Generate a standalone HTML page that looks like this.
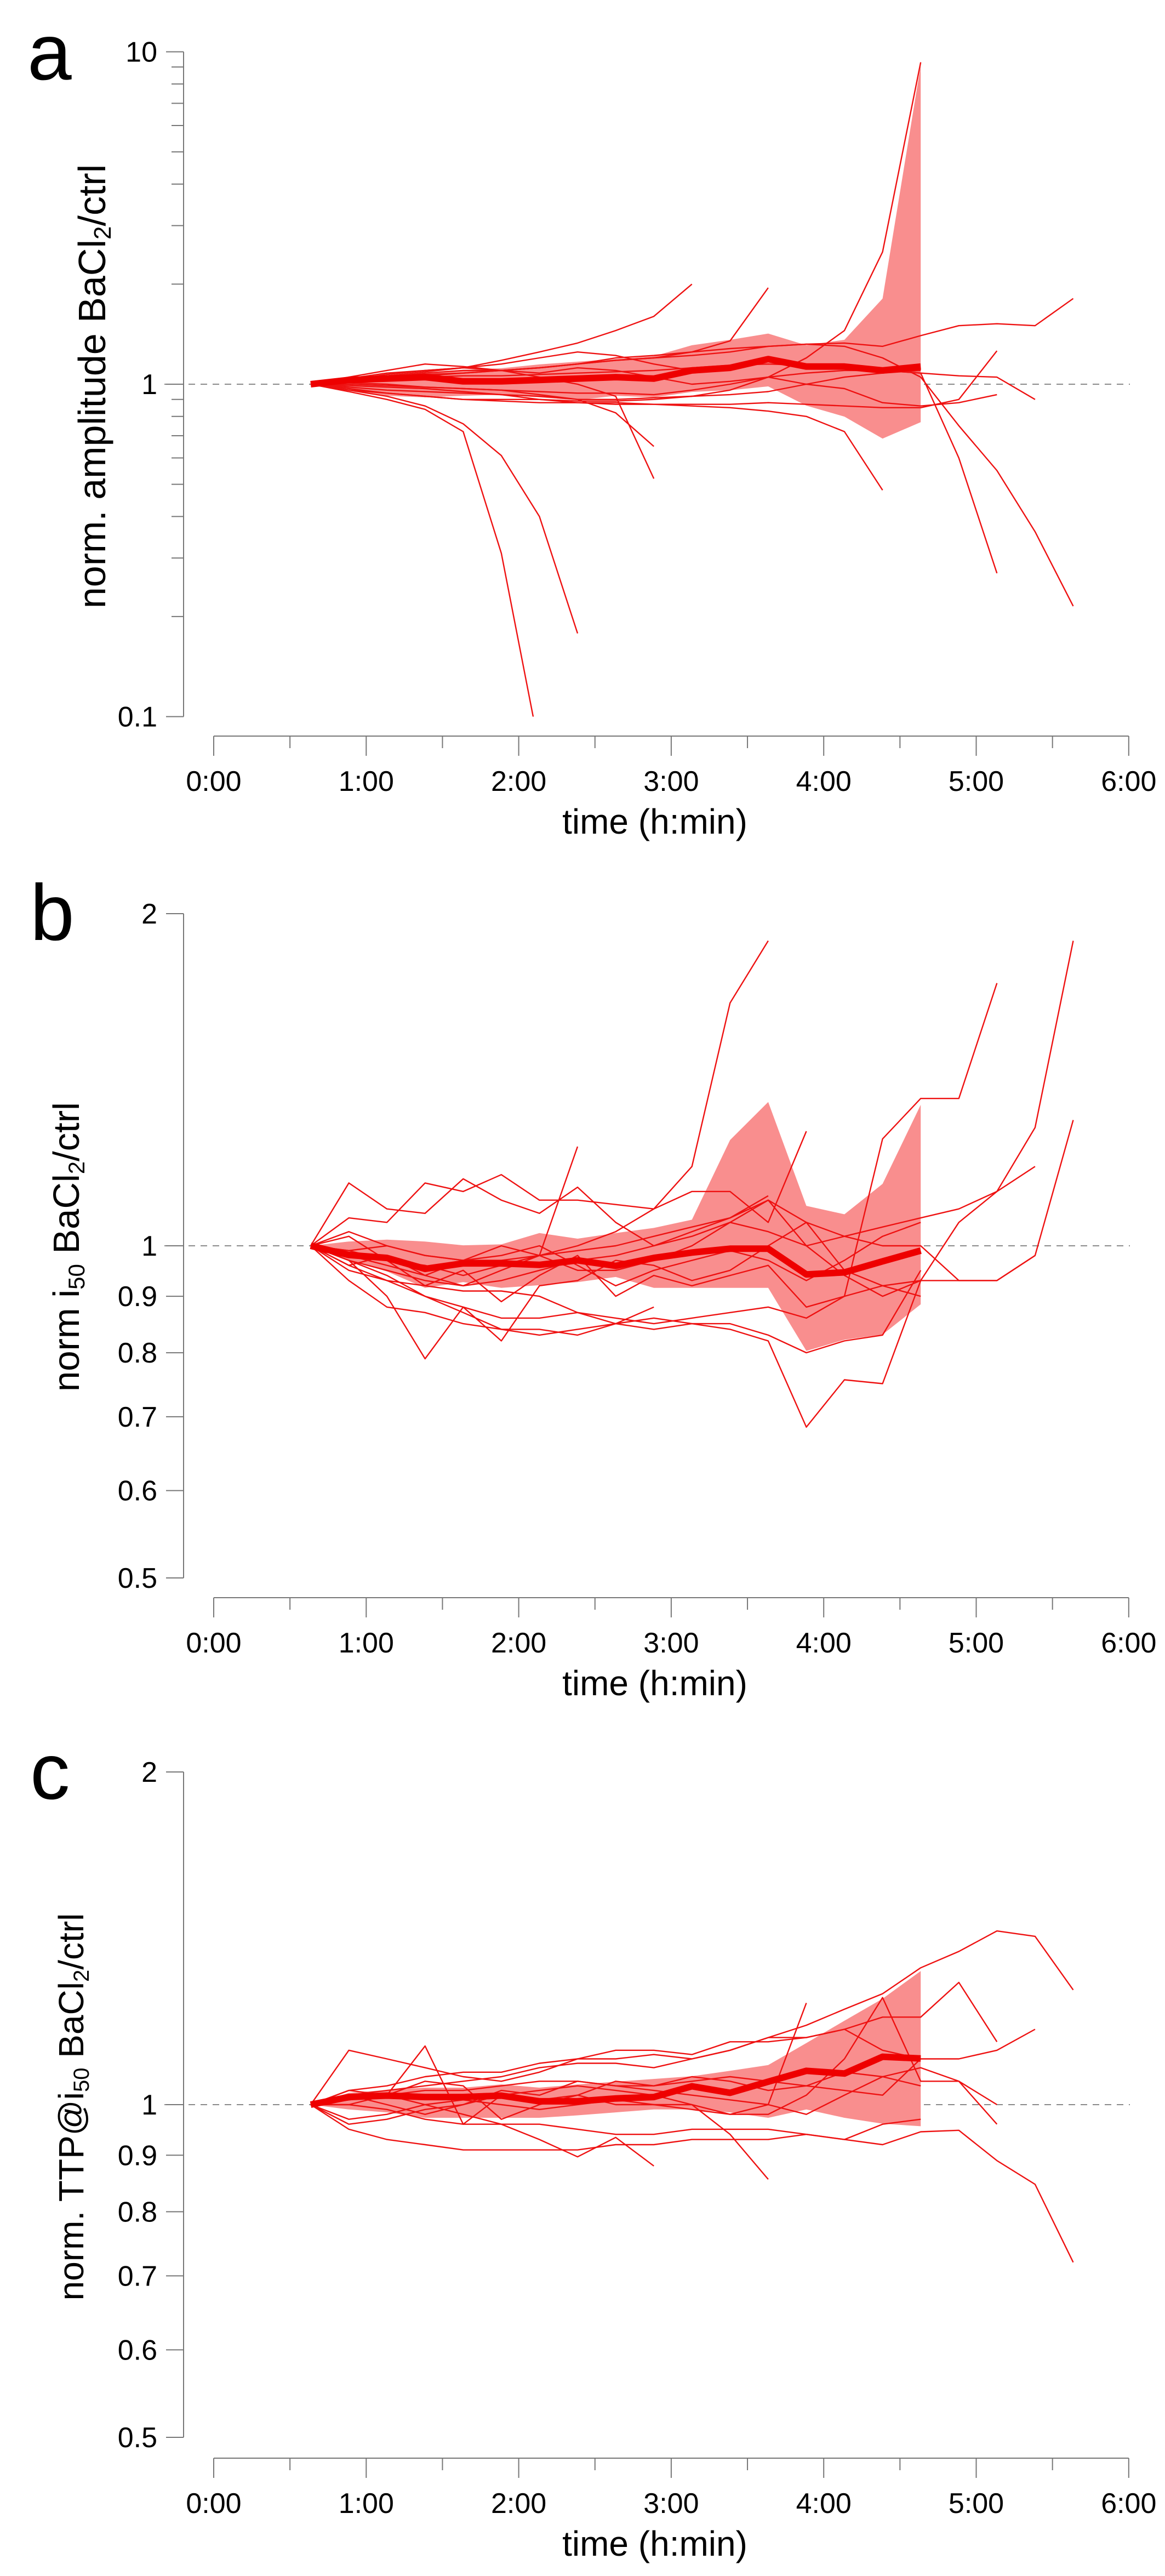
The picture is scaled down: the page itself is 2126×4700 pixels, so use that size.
<!DOCTYPE html>
<html><head><meta charset="utf-8"><style>
html,body{margin:0;padding:0;background:#fff;}
svg{display:block;}
text{font-family:"Liberation Sans",sans-serif;fill:#000;}
</style></head><body>
<svg id="fig" width="2126" height="4700" viewBox="0 0 2126 4700" xmlns="http://www.w3.org/2000/svg"></svg>
<script>
// ---- shared data ----
const sampleTimes = [0.636,0.886,1.136,1.386,1.636,1.886,2.136,2.386,2.636,2.886,3.136,3.386,3.636,3.886,4.136,4.386,4.636,4.886,5.136,5.386,5.636];
const xTickLabels = ["0:00","1:00","2:00","3:00","4:00","5:00","6:00"];

// ---- panel a ----
const aMean = [1,1.03,1.04,1.05,1.02,1.02,1.03,1.04,1.05,1.04,1.10,1.12,1.19,1.13,1.13,1.10,1.13];
const aUpper = [1,1.043,1.063,1.083,1.104,1.117,1.147,1.169,1.191,1.214,1.31,1.36,1.42,1.31,1.36,1.81,9.1];
const aLower = [1,0.959,0.923,0.913,0.923,0.930,0.913,0.896,0.923,0.913,0.948,0.959,0.985,0.862,0.799,0.686,0.769];
const aTraces = [
 [1,0.95,0.9,0.84,0.72,0.31,0.08],
 [1,0.96,0.92,0.86,0.76,0.61,0.40,0.178],
 [1,1.03,1.07,1.1,1.12,1.18,1.25,1.33,1.45,1.6,2.0],
 [1,1.02,1.05,1.06,1.08,1.1,1.05,1.0,0.92,0.52],
 [1,1.01,1.0,0.98,0.97,0.96,0.93,0.9,0.82,0.65],
 [1,1.04,1.08,1.1,1.12,1.1,1.12,1.15,1.2,1.22,1.25,1.35,1.95],
 [1,0.96,0.94,0.92,0.9,0.9,0.9,0.89,0.89,0.9,0.92,0.96,1.05,1.2,1.45,2.5,9.3],
 [1,0.97,0.94,0.92,0.9,0.89,0.88,0.88,0.87,0.87,0.86,0.85,0.83,0.80,0.72,0.48],
 [1,1.02,1.05,1.08,1.1,1.1,1.12,1.15,1.18,1.2,1.22,1.25,1.3,1.32,1.3,1.2,1.05,0.75,0.55,0.36,0.215],
 [1,1.03,1.05,1.07,1.08,1.1,1.12,1.15,1.18,1.2,1.25,1.28,1.3,1.32,1.33,1.30,1.40,1.50,1.52,1.50,1.81],
 [1,1.02,1.04,1.05,1.06,1.06,1.07,1.08,1.09,1.1,1.12,1.14,1.15,1.14,1.12,1.1,1.08,1.06,1.05,0.9],
 [1,1.0,0.99,0.98,0.97,0.96,0.95,0.94,0.94,0.93,0.96,1.0,1.05,1.08,1.1,1.1,1.08,0.6,0.27],
 [1,0.99,0.98,0.97,0.95,0.93,0.9,0.88,0.88,0.87,0.87,0.87,0.88,0.87,0.86,0.85,0.85,0.9,1.26],
 [1,1.05,1.1,1.15,1.13,1.1,1.08,1.12,1.1,1.05,1.0,1.02,1.05,1.0,0.97,0.88,0.86,0.88,0.93],
 [1,1.03,1.06,1.09,1.12,1.15,1.2,1.25,1.22,1.15,1.1,1.12,1.18,1.15,1.12],
 [1,0.98,0.96,0.95,0.94,0.93,0.92,0.9,0.9,0.91,0.92,0.93,0.95,1.0,1.05,1.08,1.1]
];
const aTickVals = [0.1,1,10];
const aTickLabels = ["0.1","1","10"];

// ---- panel b ----
const bMean = [1,0.981,0.975,0.953,0.964,0.964,0.961,0.970,0.959,0.975,0.986,0.994,0.994,0.942,0.946,0.968,0.990];
const bUpper = [1,1.009,1.013,1.009,1.001,1.003,1.027,1.015,1.027,1.038,1.056,1.247,1.35,1.087,1.068,1.138,1.342];
const bLower = [1,0.970,0.948,0.916,0.927,0.916,0.921,0.927,0.937,0.916,0.916,0.916,0.916,0.803,0.822,0.831,0.885];
const bTraces = [
 [1,0.99,0.97,0.96,0.94,0.96,0.98,1.0,1.03,1.08,1.18,1.66,1.89],
 [1,0.97,0.95,0.93,0.92,0.93,0.95,0.97,0.98,1.0,1.02,1.05,1.03,1.0,1.02,1.04,1.06,1.08,1.12,1.28,1.89],
 [1,0.99,1.0,0.98,0.97,0.97,0.98,0.99,1.0,1.02,1.04,1.06,1.1,1.05,1.02,1.0,1.0,0.93,0.93,0.98,1.30],
 [1,0.96,0.93,0.9,0.88,0.86,0.86,0.87,0.86,0.85,0.86,0.87,0.88,0.86,0.9,1.25,1.36,1.36,1.73],
 [1,0.97,0.94,0.9,0.87,0.84,0.83,0.84,0.85,0.86,0.85,0.84,0.82,0.685,0.756,0.75,0.93,1.05,1.12,1.18],
 [1,1.14,1.08,1.07,1.15,1.1,1.07,1.13,1.05,1.0,1.03,1.06,1.11],
 [1,1.06,1.05,1.14,1.12,1.16,1.1,1.1,1.09,1.08,1.12,1.12,1.05,1.27],
 [1,0.97,0.9,0.79,0.88,0.82,0.92,0.93,0.97,0.96,0.93,0.95,1.0,1.05,0.95,0.92,0.93],
 [1,0.93,0.88,0.87,0.85,0.84,0.84,0.83,0.85,0.84,0.85,0.85,0.83,0.80,0.82,0.83,0.95],
 [1,0.98,0.96,0.94,0.92,0.95,0.98,1.23],
 [1,0.95,0.93,0.92,0.91,0.91,0.9,0.87,0.85,0.88],
 [1,1.03,1.0,0.98,0.97,1.0,0.98,0.95,0.95,0.97,1.0,1.05,1.1,1.0,0.94,0.9,0.93,0.93,0.93,0.98],
 [1,0.96,0.98,0.94,0.97,0.98,1.0,0.96,0.92,0.95,0.97,0.99,0.97,0.93,0.97,1.02,1.05],
 [1,1.02,0.97,0.92,0.95,0.89,0.94,0.98,0.9,0.94,0.92,0.94,0.96,0.88,0.9,0.92,0.9]
];
const bTickVals = [0.5,0.6,0.7,0.8,0.9,1,2];
const bTickLabels = ["0.5","0.6","0.7","0.8","0.9","1","2"];

// ---- panel c ----
const cMean = [1,1.016,1.019,1.016,1.016,1.019,1.007,1.007,1.013,1.016,1.039,1.025,1.049,1.073,1.067,1.105,1.101];
const cUpper = [1,1.025,1.031,1.036,1.036,1.043,1.036,1.043,1.049,1.055,1.061,1.073,1.086,1.137,1.191,1.247,1.321];
const cLower = [1,0.990,0.984,0.973,0.973,0.973,0.973,0.978,0.984,0.990,0.990,0.984,0.973,0.990,0.973,0.961,0.956];
const cTraces = [
 [1,1.02,1.03,1.04,1.05,1.06,1.08,1.09,1.09,1.08,1.1,1.12,1.15,1.18,1.22,1.26,1.33,1.376,1.436,1.42,1.27],
 [1,0.95,0.93,0.92,0.91,0.91,0.91,0.91,0.92,0.92,0.93,0.93,0.93,0.94,0.93,0.92,0.945,0.948,0.89,0.847,0.72],
 [1,1.03,1.04,1.06,1.07,1.07,1.09,1.1,1.1,1.11,1.1,1.12,1.15,1.15,1.17,1.2,1.2,1.29,1.14],
 [1,0.97,0.98,1.0,1.01,1.0,0.99,1.0,1.01,1.0,0.99,0.98,0.98,1.02,1.1,1.25,1.05,1.05,0.96],
 [1,1.01,1.02,1.03,1.03,1.04,1.05,1.05,1.04,1.04,1.05,1.06,1.05,1.04,1.03,1.02,1.1,1.1,1.12,1.17],
 [1,1.02,1.0,0.98,1.0,1.02,1.01,1.02,1.0,1.0,1.0,0.94,0.856],
 [1,1.0,1.02,1.0,0.98,0.96,0.93,0.897,0.934,0.88],
 [1,1.01,1.02,1.13,0.96,1.02,1.03,1.04,1.03,1.02,1.0,0.98,1.0,1.236],
 [1,1.12,1.1,1.08,1.06,1.05,1.07,1.1,1.12,1.12,1.11,1.14,1.14,1.15,1.17,1.12,1.1],
 [1,0.96,0.97,0.99,1.0,1.03,1.02,1.05,1.04,1.03,1.02,1.01,1.0,0.98,1.02,1.06,1.08,1.05,1.0],
 [1,1.03,1.02,1.05,1.04,0.97,1.0,1.02,1.05,1.04,1.06,1.05,1.03,1.04,1.07,1.06,1.04],
 [1,1.0,0.99,0.97,0.96,0.96,0.96,0.95,0.94,0.94,0.95,0.95,0.95,0.94,0.93,0.96,0.97]
];
const cTickVals = [0.5,0.6,0.7,0.8,0.9,1,2];
const cTickLabels = ["0.5","0.6","0.7","0.8","0.9","1","2"];

const NS = "http://www.w3.org/2000/svg";
const svg = document.getElementById("fig");
function mk(tag, attrs, parent) {
  const e = document.createElementNS(NS, tag);
  for (const k in attrs) e.setAttribute(k, attrs[k]);
  (parent || svg).appendChild(e);
  return e;
}
const X0 = 390, HOURPX = 278.3, YAXIS_X = 335;
function xScale(t) { return X0 + t * HOURPX; }

function drawPanel(cfg) {
  const g = mk("g", {});
  
  
  const yScale = v => cfg.y1 - Math.log(v) / Math.log(cfg.base) * cfg.unitPx;
  const yTop = yScale(cfg.vmax), yBot = yScale(cfg.vmin);
  const clipId = "clip-" + cfg.letter;
  const cp = mk("clipPath", {id: clipId}, g);
  mk("rect", {x: YAXIS_X, y: yTop, width: 1800, height: yBot - yTop}, cp);

  const ref = mk("line", {x1: 300, x2: 2062, y1: yScale(1), y2: yScale(1), stroke: "#8a8a8a", "stroke-width": 2, "stroke-dasharray": "12,10"}, g);
  
  

  const plot = mk("g", {"clip-path": "url(#" + clipId + ")"}, g);
  let pts = [];
  cfg.upper.forEach((v, i) => pts.push(xScale(sampleTimes[i]).toFixed(1) + "," + yScale(v).toFixed(1)));
  for (let i = cfg.lower.length - 1; i >= 0; i--) pts.push(xScale(sampleTimes[i]).toFixed(1) + "," + yScale(cfg.lower[i]).toFixed(1));
  const band = mk("polygon", {points: pts.join(" "), fill: "#f98e8e", stroke: "none"}, plot);
  
  
  cfg.traces.forEach((tr, k) => {
    const p = tr.map((v, i) => xScale(sampleTimes[i]).toFixed(1) + "," + yScale(v).toFixed(1)).join(" ");
    const pl = mk("polyline", {points: p, fill: "none", stroke: "#ee1111", "stroke-width": 2.4, "stroke-linejoin": "round"}, plot);
    
    
  });
  const mp = cfg.mean.map((v, i) => xScale(sampleTimes[i]).toFixed(1) + "," + yScale(v).toFixed(1)).join(" ");
  const ml = mk("polyline", {points: mp, fill: "none", stroke: "#ee0000", "stroke-width": 12, "stroke-linejoin": "round"}, plot);
  
  

  const ya = mk("line", {x1: YAXIS_X, x2: YAXIS_X, y1: yTop, y2: yBot, stroke: "#777", "stroke-width": 2}, g);
  
  
  cfg.tickVals.forEach((v, i) => {
    const y = yScale(v);
    mk("line", {x1: YAXIS_X - 32, x2: YAXIS_X, y1: y, y2: y, stroke: "#777", "stroke-width": 2}, g);
    const t = mk("text", {x: YAXIS_X - 48, y: y + 18, "text-anchor": "end", "font-size": 52}, g);
    t.textContent = cfg.tickLabels[i];
    
    
  });
  if (cfg.minor) {
    [0.1, 1].forEach(d => { for (let m = 2; m <= 9; m++) {
      const y = yScale(d * m);
      mk("line", {x1: YAXIS_X - 22, x2: YAXIS_X, y1: y, y2: y, stroke: "#777", "stroke-width": 2}, g);
    }});
  }
  const xa = mk("line", {x1: xScale(0), x2: xScale(6), y1: cfg.xAxisY, y2: cfg.xAxisY, stroke: "#777", "stroke-width": 2}, g);
  
  
  for (let h = 0; h <= 12; h++) {
    const x = xScale(h / 2);
    mk("line", {x1: x, x2: x, y1: cfg.xAxisY, y2: cfg.xAxisY + (h % 2 ? 22 : 36), stroke: "#777", "stroke-width": 2}, g);
  }
  xTickLabels.forEach((lab, i) => {
    const t = mk("text", {x: xScale(i), y: cfg.xAxisY + 100, "text-anchor": "middle", "font-size": 52}, g);
    t.textContent = lab;
    
    
  });
  const xt = mk("text", {x: 1195, y: cfg.xAxisY + 178, "text-anchor": "middle", "font-size": 64}, g);
  xt.textContent = "time (h:min)";
  
  
  const yt = mk("text", {x: 0, y: 0, "text-anchor": "middle", "font-size": cfg.yTitleSize, transform: "translate(" + cfg.yTitleX + "," + cfg.yTitleY + ") rotate(-90)"}, g);
  yt.innerHTML = cfg.yTitle;
  
  
  const pl = mk("text", {x: cfg.letterX, y: cfg.letterY, "font-size": 145}, g);
  pl.textContent = cfg.letter;
  
  
}

drawPanel({name: "panel-a", letter: "a", letterX: 50, letterY: 145, y1: 701, base: 10, unitPx: 606.5, vmin: 0.1, vmax: 10,
  mean: aMean, upper: aUpper, lower: aLower, traces: aTraces, tickVals: aTickVals, tickLabels: aTickLabels, minor: true,
  xAxisY: 1343, yTitleX: 192, yTitleY: 705, yTitleSize: 70,
  yTitle: 'norm. amplitude BaCl<tspan font-size="44" dy="10">2</tspan><tspan dy="-10">/ctrl</tspan>'});
drawPanel({name: "panel-b", letter: "b", letterX: 55, letterY: 1715, y1: 2273, base: 2, unitPx: 606, vmin: 0.5, vmax: 2,
  mean: bMean, upper: bUpper, lower: bLower, traces: bTraces, tickVals: bTickVals, tickLabels: bTickLabels, minor: false,
  xAxisY: 2915, yTitleX: 144, yTitleY: 2275, yTitleSize: 67,
  yTitle: 'norm i<tspan font-size="42" dy="10">50</tspan><tspan dy="-10"> BaCl</tspan><tspan font-size="42" dy="10">2</tspan><tspan dy="-10">/ctrl</tspan>'});
drawPanel({name: "panel-c", letter: "c", letterX: 55, letterY: 3282, y1: 3840, base: 2, unitPx: 607, vmin: 0.5, vmax: 2,
  mean: cMean, upper: cUpper, lower: cLower, traces: cTraces, tickVals: cTickVals, tickLabels: cTickLabels, minor: false,
  xAxisY: 4485, yTitleX: 152, yTitleY: 3844, yTitleSize: 64,
  yTitle: 'norm. TTP@i<tspan font-size="40" dy="10">50</tspan><tspan dy="-10"> BaCl</tspan><tspan font-size="40" dy="10">2</tspan><tspan dy="-10">/ctrl</tspan>'});
</script>
</body></html>
